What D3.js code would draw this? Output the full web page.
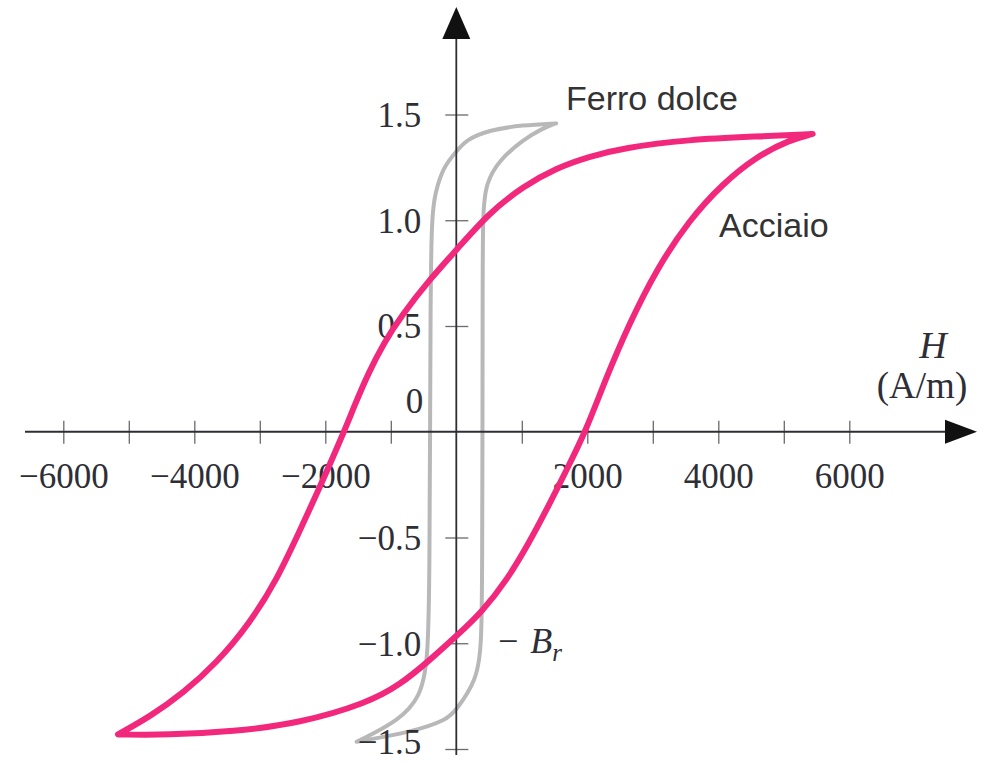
<!DOCTYPE html>
<html>
<head>
<meta charset="utf-8">
<script src="https://cdn.jsdelivr.net/npm/d3@7"></script>
<style>
  html, body { margin: 0; padding: 0; background: #fff; }
  svg { display: block; }
</style>
</head>
<body>
<svg id="chart" width="999" height="767"></svg>
<script>
// Hysteresis loops: magnetic field H (A/m) vs flux density B (T)

// Steel (Acciaio): upper branch, H decreasing from positive saturation
const steelUpper = [
  [5441, 1.408], [4576, 1.396], [3553, 1.382], [2545, 1.342], [2026, 1.301],
  [1523, 1.247], [1019, 1.160], [499, 1.034], [0, 0.859], [-402, 0.722],
  [-844, 0.546], [-1104, 0.421], [-1348, 0.274], [-1562, 0.118], [-1714, 0.0],
  [-2080, -0.260], [-2386, -0.465], [-2742, -0.701], [-3150, -0.904],
  [-3658, -1.093], [-4168, -1.235], [-4676, -1.347], [-5165, -1.431]
];
// Steel: lower branch, H increasing from negative saturation
const steelLower = [
  [-5165, -1.431], [-4421, -1.434], [-3405, -1.418], [-2386, -1.378],
  [-1368, -1.284], [-859, -1.197], [-402, -1.079], [0, -0.966], [392, -0.852],
  [774, -0.701], [1110, -0.526], [1415, -0.346], [1690, -0.176], [1973, 0.0],
  [2286, 0.254], [2638, 0.509], [3050, 0.765], [3554, 1.001], [4073, 1.175],
  [4576, 1.300], [5079, 1.379], [5441, 1.408]
];

// Soft iron (Ferro dolce): upper branch
const ironUpper = [
  [1525, 1.458], [1014, 1.450], [504, 1.427], [148, 1.380], [0, 1.324],
  [-198, 1.253], [-325, 1.127], [-376, 1.017], [-394, 0.623], [-400, 0.0],
  [-409, -0.606], [-427, -1.095], [-554, -1.253], [-860, -1.363], [-1522, -1.466]
];
// Soft iron: lower branch
const ironLower = [
  [-1522, -1.466], [-656, -1.418], [-147, -1.363], [0, -1.316], [311, -1.174],
  [388, -1.016], [395, -0.606], [400, 0.0], [402, 0.623], [404, 1.048],
  [453, 1.175], [656, 1.285], [1014, 1.379], [1319, 1.435], [1525, 1.458]
];

// Axis ticks and labels
const xTicks = [-6000, -5000, -4000, -3000, -2000, -1000, 1000, 2000, 3000, 4000, 5000, 6000];
const xLabelled = [-6000, -4000, -2000, 2000, 4000, 6000];
const yTicks = [1.5, 1.0, 0.5, -0.5, -1.0, -1.5];
const yLabels = ["1.5", "1.0", "0.5", "\u22120.5", "\u22121.0", "\u22121.5"];

const svg = d3.select("#chart");

const x = d3.scaleLinear().domain([-6000, 6000]).range([63.3, 849.3]);
const y = d3.scaleLinear().domain([-1.5, 1.5]).range([749, 114.5]);

const x0 = x(0), y0 = y(0);

const line = d3.line()
  .x(d => x(d[0]))
  .y(d => y(d[1]))
  .curve(d3.curveBasis);

// join both branches into one closed loop; each branch starts and ends on a tip
function loopPath(upper, lower) {
  return line(upper) + line(lower).replace(/^M[^CL]*/, "") + "Z";
}

const serif = "'Liberation Serif', 'Times New Roman', serif";
const sans = "'Liberation Sans', Arial, Helvetica, sans-serif";
const ink = "#2e2e36";

// soft iron loop (behind axes)
svg.append("path")
  .attr("d", loopPath(ironUpper, ironLower))
  .attr("fill", "none")
  .attr("stroke", "#b8b8b8")
  .attr("stroke-width", 4)
  .attr("stroke-linejoin", "round");

// x axis ticks and labels
const xAxis = svg.append("g")
  .attr("transform", `translate(0,${y0})`)
  .call(d3.axisBottom(x).tickValues(xTicks).tickSize(11)
    .tickFormat(d => xLabelled.includes(d) ? (d < 0 ? "\u2212" + Math.abs(d) : String(d)) : ""));
xAxis.select(".domain").remove();
xAxis.selectAll(".tick line")
  .attr("y1", -11).attr("y2", 12)
  .attr("stroke", "#6a6a6a").attr("stroke-width", 1.3);
xAxis.selectAll(".tick text")
  .attr("y", 56).attr("dy", 0)
  .attr("fill", ink)
  .style("font-family", serif)
  .style("font-size", "35px");

// y axis ticks and labels
const yAxis = svg.append("g")
  .attr("transform", `translate(${x0},0)`)
  .call(d3.axisLeft(y).tickValues(yTicks).tickSize(11)
    .tickFormat((d, i) => yLabels[i]));
yAxis.select(".domain").remove();
yAxis.selectAll(".tick line")
  .attr("x1", -11).attr("x2", 12)
  .attr("stroke", "#6a6a6a").attr("stroke-width", 1.3);
yAxis.selectAll(".tick text")
  .attr("x", -35)
  .attr("dy", d => d === -1.5 ? "0.14em" : "0.34em")
  .attr("text-anchor", "end")
  .attr("fill", ink)
  .style("font-family", serif)
  .style("font-size", "35px");

// origin label sits above the H axis
svg.append("text")
  .attr("x", x0 - 33).attr("y", y0 - 19)
  .attr("text-anchor", "end")
  .attr("fill", ink)
  .style("font-family", serif)
  .style("font-size", "35px")
  .text("0");

// axis lines with arrowheads
svg.append("line")
  .attr("x1", 25).attr("x2", 948)
  .attr("y1", y0).attr("y2", y0)
  .attr("stroke", ink).attr("stroke-width", 2);
svg.append("path")
  .attr("d", `M977,${y0} L945,${y0 - 12} L945,${y0 + 12} Z`)
  .attr("fill", "#111");

svg.append("line")
  .attr("x1", x0).attr("x2", x0)
  .attr("y1", 36).attr("y2", 755)
  .attr("stroke", ink).attr("stroke-width", 1.8);
svg.append("path")
  .attr("d", `M${x0},7 L${x0 - 14},39 L${x0 + 14},39 Z`)
  .attr("fill", "#111");

// steel loop (on top)
svg.append("path")
  .attr("d", loopPath(steelUpper, steelLower))
  .attr("fill", "none")
  .attr("stroke", "#f2287d")
  .attr("stroke-width", 6)
  .attr("stroke-linejoin", "round");

// curve names
svg.append("text")
  .attr("x", 566).attr("y", 110)
  .attr("fill", "#333")
  .style("font-family", sans)
  .style("font-size", "34px")
  .text("Ferro dolce");
svg.append("text")
  .attr("x", 719).attr("y", 237)
  .attr("fill", "#333")
  .style("font-family", sans)
  .style("font-size", "34px")
  .text("Acciaio");

// axis title
svg.append("text")
  .attr("x", 933).attr("y", 358)
  .attr("text-anchor", "middle")
  .attr("fill", ink)
  .style("font-family", serif)
  .style("font-style", "italic")
  .style("font-size", "38px")
  .text("H");
svg.append("text")
  .attr("x", 922).attr("y", 398)
  .attr("text-anchor", "middle")
  .attr("fill", ink)
  .style("font-family", serif)
  .style("font-size", "37px")
  .text("(A/m)");

// remanence marker
const br = svg.append("text")
  .attr("x", 498).attr("y", 653)
  .attr("fill", ink)
  .style("font-family", serif)
  .style("font-size", "36px");
br.append("tspan").text("\u2212 ");
br.append("tspan").attr("dx", 3).style("font-style", "italic").text("B");
br.append("tspan").attr("dy", 8).style("font-style", "italic").style("font-size", "25px").text("r");
</script>
</body>
</html>
